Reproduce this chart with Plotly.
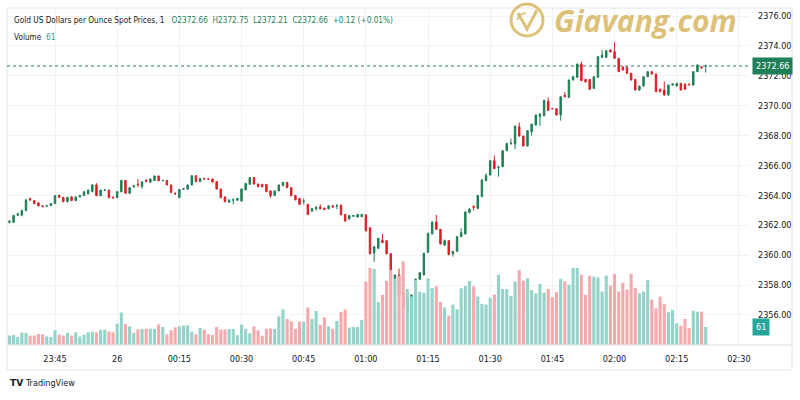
import pandas as pd
import plotly.graph_objects as go

# ---------------- data ----------------
start_time = "2024-06-25 23:34"
n_bars = 169

open_ = [2362.20,2362.20,2362.68,2362.68,2362.98,2363.78,2363.65,2363.50,2363.30,2363.28,
         2363.32,2363.45,2364.00,2363.87,2363.58,2363.90,2363.65,2363.90,2364.00,2364.10,
         2364.25,2364.70,2363.98,2364.34,2364.35,2363.88,2363.85,2364.25,2365.00,2364.14,
         2364.58,2364.76,2364.60,2365.00,2364.88,2365.00,2365.30,2364.99,2365.00,2364.70,
         2364.14,2363.85,2364.40,2364.42,2364.70,2365.32,2364.92,2365.14,2365.10,2365.10,
         2364.92,2364.43,2363.90,2363.55,2363.69,2363.68,2363.62,2364.37,2364.74,2365.20,
         2364.76,2364.74,2364.74,2364.30,2364.00,2364.30,2364.65,2364.87,2364.52,2364.00,
         2363.80,2363.61,2363.40,2362.95,2363.10,2363.22,2363.15,2363.10,2363.30,2363.29,
         2363.35,2362.73,2362.42,2362.60,2362.55,2362.57,2362.70,2361.84,2360.15,2360.46,
         2361.00,2360.97,2360.10,2358.45,2358.67,2357.45,2356.33,2357.12,2357.23,2358.39,
         2358.68,2360.19,2361.42,2362.22,2361.73,2360.67,2360.97,2360.08,2360.26,2361.24,
         2361.42,2362.84,2363.25,2363.13,2363.92,2364.98,2365.36,2366.32,2365.88,2365.92,
         2366.99,2367.48,2367.44,2368.60,2367.97,2367.30,2368.26,2368.71,2369.27,2369.33,
         2370.30,2369.82,2369.80,2369.38,2370.70,2370.56,2371.72,2371.90,2372.79,2371.76,
         2371.76,2371.16,2371.90,2373.24,2373.24,2373.73,2373.62,2373.17,2372.60,2372.57,
         2372.17,2371.76,2371.05,2371.32,2371.94,2372.28,2372.12,2371.10,2371.05,2370.72,
         2371.38,2371.32,2371.50,2371.45,2371.43,2371.38,2372.28,2372.61,2372.66]

high = [2362.35,2362.70,2362.85,2363.05,2363.75,2363.85,2363.70,2363.55,2363.35,2363.38,
        2363.48,2364.02,2364.05,2363.90,2363.90,2363.95,2363.92,2364.02,2364.28,2364.40,
        2364.75,2364.82,2364.38,2364.40,2364.38,2363.92,2364.28,2365.05,2365.02,2364.55,
        2364.70,2365.10,2364.95,2365.10,2365.12,2365.32,2365.33,2365.05,2365.02,2364.72,
        2364.20,2364.42,2364.48,2364.72,2365.35,2365.35,2365.16,2365.18,2365.14,2365.12,
        2364.95,2364.45,2363.92,2363.72,2363.80,2363.82,2364.45,2364.82,2365.22,2365.22,
        2364.78,2364.76,2364.76,2364.32,2364.32,2364.72,2364.90,2364.90,2364.55,2364.02,
        2363.82,2363.80,2363.42,2363.16,2363.30,2363.40,2363.18,2363.32,2363.33,2363.42,
        2363.38,2362.75,2362.68,2362.68,2362.76,2362.76,2362.72,2361.86,2360.60,2361.15,
        2361.42,2361.00,2360.12,2358.70,2359.10,2357.48,2357.15,2357.36,2358.42,2358.86,
        2360.15,2361.50,2362.25,2362.70,2361.75,2361.05,2361.00,2360.28,2361.26,2361.80,
        2362.92,2363.15,2363.35,2364.02,2365.06,2365.48,2366.34,2366.68,2366.00,2367.02,
        2367.50,2367.80,2368.66,2368.88,2367.99,2368.35,2368.79,2369.40,2369.51,2370.40,
        2370.55,2369.86,2369.82,2370.62,2370.92,2371.74,2372.00,2372.81,2372.95,2371.80,
        2371.78,2371.96,2373.30,2373.72,2373.70,2373.75,2374.25,2373.20,2372.62,2372.60,
        2372.20,2371.80,2371.34,2371.96,2372.32,2372.32,2372.15,2371.14,2371.62,2371.40,
        2371.50,2371.52,2371.52,2371.48,2371.50,2372.30,2372.78,2372.64,2372.75]

low = [2362.12,2362.15,2362.62,2362.60,2362.95,2363.62,2363.42,2363.28,2363.20,2363.25,
       2363.30,2363.42,2363.85,2363.55,2363.55,2363.62,2363.62,2363.88,2363.96,2364.08,
       2364.22,2363.95,2363.95,2364.30,2363.82,2363.80,2363.82,2364.20,2364.12,2364.10,
       2364.50,2364.55,2364.45,2364.90,2364.85,2364.98,2364.96,2364.95,2364.68,2364.18,
       2364.05,2363.82,2364.38,2364.40,2364.68,2364.90,2364.90,2365.08,2365.05,2364.88,
       2364.40,2363.82,2363.55,2363.50,2363.40,2363.62,2363.60,2364.35,2364.72,2364.74,
       2364.55,2364.55,2364.22,2363.85,2363.98,2364.28,2364.62,2364.50,2363.96,2363.68,
       2363.38,2363.40,2362.68,2362.92,2363.00,2363.08,2363.02,2363.08,2363.20,2363.08,
       2362.68,2362.25,2362.40,2362.58,2362.52,2362.55,2361.58,2360.05,2359.55,2360.44,
       2360.82,2360.05,2358.52,2358.42,2357.30,2355.90,2356.30,2356.10,2357.20,2358.36,
       2358.65,2360.16,2361.40,2361.70,2360.72,2360.64,2360.00,2359.90,2360.24,2361.22,
       2361.40,2362.82,2363.00,2363.10,2363.90,2364.96,2365.34,2365.76,2365.25,2365.90,
       2366.96,2367.38,2367.10,2367.94,2367.28,2367.28,2368.00,2368.69,2368.65,2369.30,
       2369.65,2369.76,2369.35,2369.00,2370.58,2370.54,2371.70,2371.88,2371.66,2371.56,
       2371.08,2371.14,2371.88,2373.20,2373.20,2373.58,2373.15,2372.25,2372.36,2372.15,
       2371.70,2371.03,2371.02,2371.30,2371.92,2372.10,2370.92,2370.92,2370.68,2370.65,
       2371.35,2371.30,2371.03,2371.08,2371.38,2371.36,2372.26,2372.48,2372.21]

close = [2362.28,2362.65,2362.75,2362.98,2363.70,2363.70,2363.45,2363.30,2363.26,2363.30,
         2363.45,2363.98,2363.87,2363.58,2363.87,2363.65,2363.90,2364.00,2364.25,2364.35,
         2364.70,2363.98,2364.35,2364.36,2363.85,2363.83,2364.25,2365.00,2364.14,2364.52,
         2364.65,2364.72,2364.90,2364.92,2365.10,2365.30,2364.98,2365.00,2364.70,2364.20,
         2364.10,2364.40,2364.45,2364.70,2365.32,2364.92,2365.14,2365.10,2365.08,2364.90,
         2364.43,2363.85,2363.58,2363.70,2363.70,2363.80,2364.43,2364.80,2365.20,2364.76,
         2364.58,2364.58,2364.25,2363.98,2364.30,2364.70,2364.87,2364.52,2363.98,2363.70,
         2363.40,2363.63,2362.73,2363.13,2363.20,2363.10,2363.05,2363.30,2363.22,2363.30,
         2362.70,2362.28,2362.65,2362.65,2362.73,2362.73,2361.64,2360.10,2360.57,2361.13,
         2360.84,2360.10,2358.57,2358.67,2357.34,2356.45,2357.12,2357.34,2358.39,2358.83,
         2360.12,2361.46,2362.22,2361.73,2360.75,2360.97,2360.04,2360.26,2361.24,2361.51,
         2362.89,2363.07,2363.20,2364.00,2365.03,2365.34,2366.32,2365.79,2365.90,2366.99,
         2367.48,2367.50,2368.64,2367.97,2367.30,2368.33,2368.77,2369.38,2369.43,2370.36,
         2369.69,2369.80,2369.38,2370.60,2370.60,2371.72,2371.94,2372.79,2371.68,2371.60,
         2371.10,2371.94,2373.28,2373.39,2373.68,2373.60,2373.17,2372.28,2372.39,2372.17,
         2371.72,2371.05,2371.32,2371.94,2372.28,2372.12,2370.94,2370.94,2370.72,2371.38,
         2371.45,2371.50,2371.05,2371.10,2371.40,2372.28,2372.72,2372.54,2372.66]

volume = [32,34,27,42,41,32,32,37,36,29,27,50,35,32,41,32,43,29,35,43,45,43,51,52,46,43,72,110,72,63,
          41,53,54,55,55,55,70,61,36,50,60,63,66,67,
          45,36,58,52,37,34,61,52,52,54,54,33,69,55,40,63,50,31,55,56,55,97,121,88,80,55,79,79,127,88,
          115,69,94,63,55,82,112,120,59,61,61,85,215,261,
          258,145,170,218,255,224,235,284,190,165,220,180,177,226,193,199,146,127,99,137,121,192,200,217,
          199,164,139,137,160,171,238,190,190,166,215,254,218,226,186,175,207,177,190,
          162,179,224,216,205,261,261,238,170,235,232,229,181,235,201,241,181,211,188,241,193,175,181,221,
          154,124,164,139,111,119,73,66,88,57,116,113,113,61]

tick_times = ["2024-06-25 23:45", "2024-06-26 00:00", "2024-06-26 00:15", "2024-06-26 00:30",
              "2024-06-26 00:45", "2024-06-26 01:00", "2024-06-26 01:15", "2024-06-26 01:30",
              "2024-06-26 01:45", "2024-06-26 02:00", "2024-06-26 02:15", "2024-06-26 02:30"]
tick_labels = ["23:45", "26", "00:15", "00:30", "00:45", "01:00", "01:15", "01:30",
               "01:45", "02:00", "02:15", "02:30"]
price_ticks = [2356, 2358, 2360, 2362, 2364, 2366, 2368, 2370, 2372, 2374, 2376]

x_range = ["2024-06-25 23:33:25", "2024-06-26 02:32:12"]
price_range = [2353.99, 2376.54]
vol_range = [0, 1142]
last_price = 2372.66
last_volume = 61

# ---------------- styling ----------------
UP = "#1f7f56"
DOWN = "#dc1f26"
VOL_UP = "#93d3c9"
VOL_DOWN = "#f6a9ad"
GRID = "#f0f2f6"
TXT = "#131722"
GOLD = "rgba(216,182,96,0.85)"
FONT = "DejaVu Sans Condensed, Liberation Sans, sans-serif"

times = pd.date_range(start_time, periods=n_bars, freq="1min")
vol_colors = [VOL_UP if c >= o else VOL_DOWN for o, c in zip(open_, close)]

fig = go.Figure()
fig.add_trace(go.Bar(x=times, y=volume, marker=dict(color=vol_colors, line=dict(width=0)),
                     width=45000, yaxis="y2", hoverinfo="skip", showlegend=False))
fig.add_trace(go.Candlestick(x=times, open=open_, high=high, low=low, close=close,
                             increasing=dict(line=dict(color=UP, width=1), fillcolor=UP),
                             decreasing=dict(line=dict(color=DOWN, width=1), fillcolor=DOWN),
                             whiskerwidth=0, showlegend=False, yaxis="y"))

W_PLOT = 741.0
H_PLOT = 337.0


def px(xp):
    return (xp - 7) / W_PLOT


def py(yp):
    return (345 - yp) / H_PLOT


shapes = [
    dict(type="rect", xref="paper", yref="paper", x0=px(7), x1=px(792), y0=py(370), y1=py(8),
         line=dict(color="#e0e3eb", width=1), layer="above"),
    dict(type="line", xref="paper", yref="paper", x0=px(7), x1=px(792), y0=0, y1=0,
         line=dict(color="#e0e3eb", width=1), layer="above"),
    dict(type="line", xref="paper", yref="y", x0=0, x1=1, y0=last_price, y1=last_price,
         line=dict(color=UP, width=1, dash="dot"), layer="above"),
    dict(type="circle", xref="paper", yref="paper", x0=px(511), x1=px(543), y0=py(36), y1=py(4),
         line=dict(color=GOLD, width=3), layer="above"),
    dict(type="path", xref="paper", yref="paper",
         path=f"M {px(518)},{py(13)} L {px(527)},{py(29)} L {px(537)},{py(10)}",
         line=dict(color=GOLD, width=3), layer="above"),
    dict(type="path", xref="paper", yref="paper",
         path=f"M {px(517)},{py(20)} Q {px(520)},{py(13)} {px(526)},{py(13)}",
         line=dict(color="rgba(216,182,96,0.75)", width=2), layer="above"),
]

SP = "\u00a0"
annotations = [
    dict(xref="paper", yref="paper", x=px(12), y=py(20), xanchor="left", yanchor="middle",
         showarrow=False, font=dict(family=FONT, size=8.2, color=TXT),
         text=(f"Gold US Dollars per Ounce Spot Prices, 1{SP*3}"
               f"<span style='color:{UP}'>O2372.66{SP*2}H2372.75{SP*2}L2372.21{SP*2}"
               f"C2372.66{SP*2}+0.12 (+0.01%)</span>")),
    dict(xref="paper", yref="paper", x=px(12), y=py(37), xanchor="left", yanchor="middle",
         showarrow=False, font=dict(family=FONT, size=8.2, color=TXT),
         text=f"Volume{SP*2}<span style='color:#26a69a'>{last_volume}</span>"),
    dict(xref="paper", yref="y", x=px(752), y=last_price, xanchor="left", yanchor="middle",
         showarrow=False, font=dict(family=FONT, size=9, color="white"),
         text=f"{last_price:.2f}", bgcolor=UP, borderpad=3),
    dict(xref="paper", yref="y2", x=px(752), y=last_volume, xanchor="left", yanchor="middle",
         showarrow=False, font=dict(family=FONT, size=9, color="white"),
         text=f"{last_volume}", bgcolor="#26a69a", borderpad=3),
    dict(xref="paper", yref="paper", x=px(552), y=py(20), xanchor="left", yanchor="middle",
         showarrow=False, font=dict(family="Open Sans", size=30, color=GOLD,
                                    weight="bold", style="italic"),
         text="Giavang.com"),
    dict(xref="paper", yref="paper", x=px(8), y=py(383), xanchor="left", yanchor="middle",
         showarrow=False, font=dict(family="DejaVu Sans", size=9, color=TXT, weight="bold"),
         text="TV"),
    dict(xref="paper", yref="paper", x=px(23), y=py(383), xanchor="left", yanchor="middle",
         showarrow=False, font=dict(family=FONT, size=9, color=TXT),
         text="TradingView"),
]

fig.update_layout(
    width=800, height=400,
    margin=dict(l=7, r=52, t=8, b=55),
    paper_bgcolor="white", plot_bgcolor="white",
    font=dict(family=FONT, size=9, color=TXT),
    boxgap=0.5,
    bargap=0.25,
    showlegend=False,
    xaxis=dict(type="date", range=x_range, tickvals=tick_times, ticktext=tick_labels,
               showgrid=True, gridcolor=GRID, gridwidth=1, zeroline=False, showline=False,
               ticks="", ticklabelstandoff=7, tickfont=dict(family=FONT, size=9, color=TXT),
               rangeslider=dict(visible=False), fixedrange=True),
    yaxis=dict(side="right", range=price_range, tickvals=price_ticks, tickformat=".2f",
               showgrid=True, gridcolor=GRID, gridwidth=1, zeroline=False, showline=False,
               ticks="", ticklabelstandoff=9, tickfont=dict(family=FONT, size=9, color=TXT)),
    yaxis2=dict(overlaying="y", range=vol_range, visible=False, showgrid=False),
    shapes=shapes,
    annotations=annotations,
)

fig.write_html("out.html", config={"displayModeBar": False},
               post_script="document.body.style.margin='0';")
